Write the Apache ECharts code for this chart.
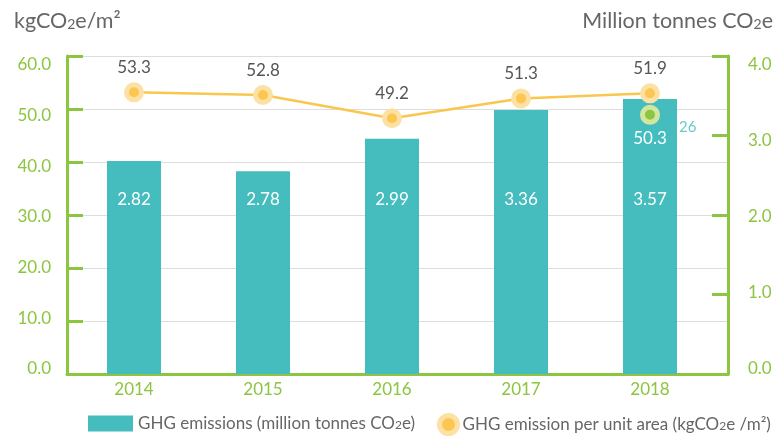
<!DOCTYPE html>
<html>
<head>
<meta charset="utf-8">
<script src="https://cdn.jsdelivr.net/npm/echarts@6/dist/echarts.min.js"></script>
<style>
  html, body { margin: 0; padding: 0; background: #fff; }
  #container { width: 782px; height: 438px; }
</style>
</head>
<body>
<div id="container"></div>
<script>
var years = ['2014', '2015', '2016', '2017', '2018'];
// bar heights as drawn (right axis, million tonnes)
var emissionHeights = [2.68, 2.55, 2.96, 3.32, 3.46];
var emissionLabels = ['2.82', '2.78', '2.99', '3.36', '3.57'];
// per-area points as drawn (left axis, kgCO2e/m2)
var intensityPoints = [53.15, 52.64, 48.25, 52.0, 52.96];
var intensityLabels = ['53.3', '52.8', '49.2', '51.3', '51.9'];
var targetPoints = [null, null, null, null, 48.9];
var targetLabels = ['', '', '', '', '50.3'];
var noteLabels = ['', '', '', '', '26'];

var green = '#8CC540';
var teal = '#45BCBD';
var font = 'Lato';

var dom = document.getElementById('container');
var myChart = echarts.init(dom);

var subRich = {
    a: { fontFamily: font, fontSize: 21.5, fontWeight: 'normal', color: '#666' },
    s: { fontFamily: font, fontSize: 14, fontWeight: 'normal', color: '#666', padding: [6, 0, 0, 0] }
};
var legendRich = {
    a: { fontFamily: font, fontSize: 17, color: '#666' },
    s: { fontFamily: font, fontSize: 12, color: '#666', padding: [4, 0, 0, 0] }
};

function legendText(name) {
    var parts = name.split('CO2e');
    return '{a|' + parts[0] + 'CO}{s|2}{a|e' + parts[1] + '}';
}

function oneDecimal(v) { return v.toFixed(1); }

option = {
    animation: false,
    title: [{
        text: '{a|kgCO}{s|2}{a|e/m²}',
        left: 9,
        top: 5,
        textStyle: { fontWeight: 'normal', rich: subRich }
    }, {
        text: '{a|Million tonnes CO}{s|2}{a|e}',
        right: 4,
        top: 5,
        textStyle: { fontWeight: 'normal', rich: subRich }
    }],
    legend: [{
        data: ['GHG emissions (million tonnes CO2e)'],
        left: 83,
        top: 410,
        itemWidth: 45,
        itemHeight: 16,
        icon: 'rect',
        formatter: legendText,
        textStyle: { rich: legendRich }
    }, {
        data: ['GHG emission per unit area (kgCO2e /m²)'],
        left: 432,
        top: 408,
        itemWidth: 18,
        itemHeight: 18,
        icon: 'circle',
        itemStyle: { color: '#FCC650', borderColor: '#FCE1A4', borderWidth: 5 },
        lineStyle: { width: 0, opacity: 0 },
        formatter: legendText,
        textStyle: { rich: legendRich }
    }],
    grid: [
        { left: 67, right: 54, top: 56, bottom: 64 },
        { left: 69.5, width: 645, top: 56, bottom: 64 },
        // tick labels sit on their own slightly tighter scale
        { left: 67, right: 54, top: 65, bottom: 69 }
    ],
    xAxis: [{
        gridIndex: 0,
        type: 'category',
        data: years,
        axisLine: { lineStyle: { color: green, width: 3 } },
        axisTick: { show: false },
        axisLabel: { show: false }
    }, {
        gridIndex: 1,
        type: 'category',
        data: years,
        axisLine: { show: false },
        axisTick: { show: false },
        axisLabel: { color: green, fontFamily: font, fontSize: 17, margin: 7 }
    }, {
        gridIndex: 2,
        type: 'category',
        data: years,
        show: false
    }],
    yAxis: [{
        gridIndex: 0,
        type: 'value',
        position: 'left',
        min: 0,
        max: 60,
        interval: 10,
        axisLine: { show: true, lineStyle: { color: green, width: 3 } },
        axisTick: { show: true, inside: true, length: 16, lineStyle: { color: green, width: 3 } },
        axisLabel: { show: false },
        splitLine: { show: true, lineStyle: { color: '#DDDDDD', width: 1 } }
    }, {
        gridIndex: 0,
        type: 'value',
        position: 'right',
        min: 0,
        max: 4,
        interval: 1,
        axisLine: { show: true, lineStyle: { color: green, width: 3 } },
        axisTick: { show: true, inside: true, length: 16, lineStyle: { color: green, width: 3 } },
        axisLabel: { show: false },
        splitLine: { show: false }
    }, {
        gridIndex: 1,
        type: 'value',
        min: 0,
        max: 60,
        show: false
    }, {
        gridIndex: 1,
        type: 'value',
        min: 0,
        max: 4,
        show: false
    }, {
        gridIndex: 2,
        type: 'value',
        position: 'left',
        min: 0,
        max: 60,
        interval: 10,
        axisLine: { show: false },
        axisTick: { show: false },
        splitLine: { show: false },
        axisLabel: { color: green, fontFamily: font, fontSize: 17, margin: 16, formatter: oneDecimal }
    }, {
        gridIndex: 2,
        type: 'value',
        position: 'right',
        min: 0,
        max: 4,
        interval: 1,
        axisLine: { show: false },
        axisTick: { show: false },
        splitLine: { show: false },
        axisLabel: { color: green, fontFamily: font, fontSize: 17, margin: 20, formatter: oneDecimal }
    }],
    series: [{
        name: 'GHG emissions (million tonnes CO2e)',
        type: 'bar',
        xAxisIndex: 1,
        yAxisIndex: 3,
        barWidth: 54,
        itemStyle: { color: teal },
        data: emissionHeights,
        label: {
            show: true,
            position: 'insideBottom',
            distance: 166,
            color: '#fff',
            fontFamily: font,
            fontSize: 17,
            formatter: function (p) { return emissionLabels[p.dataIndex]; }
        }
    }, {
        name: 'GHG emission per unit area (kgCO2e /m²)',
        type: 'line',
        xAxisIndex: 1,
        yAxisIndex: 2,
        symbol: 'circle',
        symbolSize: 15,
        lineStyle: { color: '#F9C74F', width: 2.5 },
        itemStyle: { color: '#FCC650', borderColor: '#FCE1A4', borderWidth: 5 },
        data: intensityPoints,
        label: {
            show: true,
            position: 'top',
            distance: 6,
            color: '#555',
            fontFamily: font,
            fontSize: 17,
            formatter: function (p) { return intensityLabels[p.dataIndex]; }
        },
        z: 3
    }, {
        name: 'target',
        type: 'scatter',
        xAxisIndex: 1,
        yAxisIndex: 2,
        symbol: 'circle',
        symbolSize: 15,
        itemStyle: { color: '#8CC540', borderColor: '#D3E6A0', borderWidth: 5, opacity: 1 },
        data: targetPoints,
        label: {
            show: true,
            position: 'bottom',
            distance: 5,
            color: '#fff',
            fontFamily: font,
            fontSize: 17,
            formatter: function (p) { return targetLabels[p.dataIndex]; }
        },
        z: 4
    }, {
        name: 'note',
        type: 'scatter',
        xAxisIndex: 1,
        yAxisIndex: 2,
        symbolSize: 0,
        silent: true,
        data: targetPoints,
        label: {
            show: true,
            position: 'right',
            distance: 29,
            offset: [0, 12],
            color: teal,
            fontFamily: font,
            fontSize: 15,
            formatter: function (p) { return noteLabels[p.dataIndex]; }
        },
        z: 4
    }]
};

if (option && typeof option === 'object') {
    myChart.setOption(option, true);
}
</script>
</body>
</html>
